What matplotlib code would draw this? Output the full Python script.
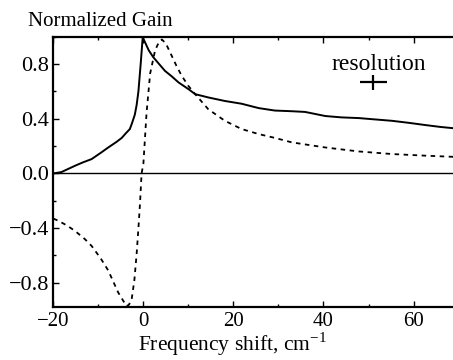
import numpy as np
import matplotlib
matplotlib.use('Agg')
import matplotlib.pyplot as plt
from matplotlib.ticker import MultipleLocator

plt.rcParams['font.family'] = ['Liberation Serif', 'DejaVu Serif']
plt.rcParams['mathtext.fontset'] = 'custom'
plt.rcParams['mathtext.rm'] = 'Liberation Serif'

# measured gain (solid)
meas_x = [-20, -18.2, -15.2, -13.5, -11.5, -9.5, -7.8, -6.0, -4.8, -4.0, -3.0,
          -2.5, -1.9, -1.5, -1.1, -0.6, -0.15, 0.5, 1.2,
          2.2, 3.5, 4.8, 6.3, 7.8, 10.0, 11.5, 14.4, 18.1, 21.8, 25.6, 29.2, 33.0,
          35.9, 40.4, 44.0, 47.8, 51.5, 55.2, 59.0, 62.6, 66.0, 68.5, 70]
meas_y = [0.0, 0.01, 0.056, 0.08, 0.105, 0.15, 0.19, 0.23, 0.26, 0.29, 0.325,
          0.37, 0.43, 0.5, 0.6, 0.8, 0.995, 0.95, 0.9,
          0.85, 0.8, 0.75, 0.71, 0.666, 0.617, 0.58, 0.556, 0.53, 0.51, 0.478, 0.46, 0.455,
          0.45, 0.42, 0.41, 0.405, 0.395, 0.385, 0.37, 0.354, 0.34, 0.332, 0.328]

# calculated gain (dotted)
calc_x = [-20, -18.9, -17.0, -15.2, -13.0, -11.5, -9.5, -7.8, -5.6, -4.5, -3.7,
          -3.2, -2.6, -2.0, -1.5, -1.1, -0.75, -0.4,
          0.0, 0.7, 1.5, 2.6, 3.3, 4.1, 5.0, 6.3, 7.3, 8.5, 10.0, 11.5, 14.4, 18.1,
          21.8, 25.6, 29.2, 33.0, 40.4, 47.8, 55.2, 62.6, 68.5, 70]
calc_y = [-0.33, -0.346, -0.38, -0.42, -0.48, -0.53, -0.62, -0.71, -0.87, -0.93, -0.97,
          -0.96, -0.92, -0.78, -0.59, -0.40, -0.22, 0.0,
          0.07, 0.44, 0.73, 0.9, 0.95, 0.98, 0.95, 0.86, 0.79, 0.715, 0.64, 0.58, 0.47, 0.385,
          0.325, 0.288, 0.26, 0.227, 0.19, 0.161, 0.142, 0.13, 0.122, 0.12]

res_x, res_y = 51.1, 0.666
res_dx, res_dy = 3.0, 0.055

fig = plt.figure(figsize=(4.53, 3.6), dpi=100)
ax = fig.add_axes([0.1177, 0.146, 0.8946, 0.752])

ax.axhline(0, color='black', lw=1.0)
ax.plot(meas_x, meas_y, color='black', lw=1.4)
ax.plot(calc_x, calc_y, color='black', lw=1.3, linestyle=(0, (2.5, 2.5)))
ax.errorbar([res_x], [res_y], xerr=[res_dx], yerr=[res_dy], fmt='none',
            ecolor='black', elinewidth=1.6, capsize=0)
ax.text(52.2, 0.8, 'resolution', fontsize=17, ha='center', va='center')

ax.set_xlim(-20, 70)
ax.set_ylim(-0.98, 1.0)
ax.set_xticks([-20, 0, 20, 40, 60])
ax.set_yticks([-0.8, -0.4, 0.0, 0.4, 0.8])
ax.set_yticklabels(['\u22120.8', '\u22120.4', '0.0', '0.4', '0.8'])
ax.set_xticklabels(['\u221220', '0', '20', '40', '60'])
ax.xaxis.set_minor_locator(MultipleLocator(10))
ax.yaxis.set_minor_locator(MultipleLocator(0.2))
ax.tick_params(which='both', direction='in', top=True, right=True,
               labelsize=16, width=1.0, pad=3)
ax.tick_params(axis='x', which='major', pad=3, labelsize=15)
ax.tick_params(which='major', length=4)
ax.tick_params(which='minor', length=2.5)
for s in ax.spines.values():
    s.set_linewidth(1.6)

fig.text(28 / 453, 1 - 22 / 360, 'Normalized Gain', fontsize=15,
         ha='left', va='center')
fig.text(232 / 453, 1.5 / 360, 'Frequency shift, cm$^{-1}$', fontsize=15.5,
         ha='center', va='bottom')

fig.savefig('out.png', dpi=100)
